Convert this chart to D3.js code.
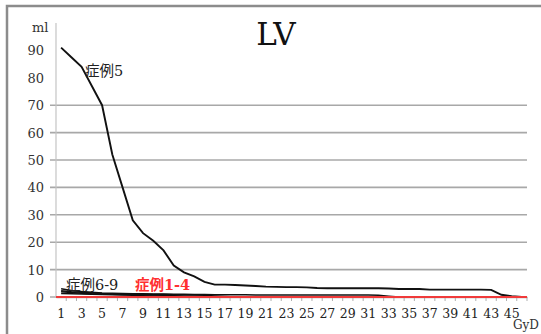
<!DOCTYPE html>
<html>
<head>
<meta charset="utf-8">
<script src="https://cdn.jsdelivr.net/npm/d3@7"></script>
<style>
  body { margin: 0; background: #fff; overflow: hidden; }
  svg { display: block; }
  text { font-family: "DejaVu Serif", "Liberation Serif", "Noto Sans CJK JP", serif; }
</style>
</head>
<body>
<div id="chart"></div>
<script>
// dose bins (Gy)
const doses = d3.range(1, 47);
const tickLabels = doses.filter(d => d % 2 === 1);
const yTicks = [0, 10, 20, 30, 40, 50, 60, 70, 80, 90];
const gridValues = [0, 10, 20, 30, 40, 50, 60, 70];

// volume (ml) per case
const case5 = [91, 87.5, 84, 77, 70, 52, 40, 28, 23.3, 20.5, 17, 11.5, 9, 7.5, 5.5, 4.5,
  4.5, 4.4, 4.2, 4, 3.8, 3.7, 3.6, 3.6, 3.5, 3.3, 3.2, 3.2, 3.2, 3.2, 3.2, 3.2, 3.1,
  2.9, 2.9, 2.9, 2.7, 2.7, 2.7, 2.7, 2.7, 2.7, 2.6, 0.8, 0.3, 0];
const case6 = [3.0, 2.4, 2.0, 1.7, 1.5, 1.4, 1.3, 1.2, 1.2, 1.1, 1.1, 1.0, 1.0, 0.9, 0.9,
  0.8, 0.8, 0.8, 0.8, 0.7, 0.7, 0.7, 0.7, 0.7, 0.7, 0.7, 0.7, 0.7, 0.7, 0.7, 0.7, 0.6,
  0.3, 0, 0, 0, 0, 0, 0, 0, 0, 0, 0, 0, 0, 0];
const case7 = [2.3, 1.9, 1.7, 1.5, 1.3, 1.2, 1.1, 1.0, 1.0, 0.9, 0.9, 0.8, 0.8, 0.7, 0.6,
  0.4, 0.2, 0, 0, 0, 0, 0, 0, 0, 0, 0, 0, 0, 0, 0, 0, 0, 0, 0, 0, 0, 0, 0, 0, 0, 0, 0,
  0, 0, 0, 0];
const case8 = [1.9, 1.6, 1.4, 1.2, 1.1, 1.0, 0.9, 0.9, 0.8, 0.7, 0.6, 0.5, 0.4, 0.3, 0.2,
  0.1, 0, 0, 0, 0, 0, 0, 0, 0, 0, 0, 0, 0, 0, 0, 0, 0, 0, 0, 0, 0, 0, 0, 0, 0, 0, 0, 0,
  0, 0, 0];
const case9 = [1.3, 1.2, 1.1, 1.0, 0.9, 0.8, 0.7, 0.6, 0.5, 0.4, 0.3, 0.2, 0.1, 0, 0, 0,
  0, 0, 0, 0, 0, 0, 0, 0, 0, 0, 0, 0, 0, 0, 0, 0, 0, 0, 0, 0, 0, 0, 0, 0, 0, 0, 0, 0, 0, 0];
const cases1to4 = [0, 0, 0, 0, 0, 0, 0, 0, 0, 0, 0, 0, 0, 0, 0, 0, 0, 0, 0, 0, 0, 0, 0,
  0, 0, 0, 0, 0, 0, 0, 0, 0, 0, 0, 0, 0, 0, 0, 0, 0, 0, 0, 0, 0, 0, 0];

const width = 541, height = 334;
const margin = { top: 23, right: 14, bottom: 37, left: 56 };

const svg = d3.select('#chart').append('svg')
  .attr('width', width)
  .attr('height', height);

// outer frame (continues past the right and bottom edges)
svg.append('path')
  .attr('d', `M7,${height + 5}V6H${width + 5}`)
  .attr('fill', 'none')
  .attr('stroke', '#8c8c8c')
  .attr('stroke-width', 2.5);

const x = d3.scaleBand()
  .domain(doses)
  .range([margin.left, width - margin.right]);

const y = d3.scaleLinear()
  .domain([0, 100])
  .range([height - margin.bottom, margin.top]);

// gridlines
svg.append('g')
  .selectAll('line')
  .data(gridValues)
  .join('line')
  .attr('x1', margin.left - 6)
  .attr('x2', width - margin.right)
  .attr('y1', d => y(d))
  .attr('y2', d => y(d))
  .attr('stroke', '#a8a8a8')
  .attr('stroke-width', 1.6);

// y axis line
svg.append('line')
  .attr('x1', margin.left).attr('x2', margin.left)
  .attr('y1', y(100)).attr('y2', y(0))
  .attr('stroke', '#c4c4c4')
  .attr('stroke-width', 1.2);

// y labels
svg.append('g')
  .selectAll('text')
  .data(yTicks)
  .join('text')
  .attr('x', 44)
  .attr('y', d => y(d) + 5)
  .attr('text-anchor', 'end')
  .attr('font-size', 13)
  .attr('fill', '#333')
  .text(d => d);

svg.append('text')
  .attr('x', 32).attr('y', 32)
  .attr('font-size', 13)
  .attr('fill', '#333')
  .text('ml');

// x axis labels
const xAxis = d3.axisBottom(x)
  .tickValues(tickLabels)
  .tickSize(0)
  .tickPadding(12);

const gx = svg.append('g')
  .attr('transform', `translate(0,${y(0)})`)
  .call(xAxis);
gx.select('.domain').attr('stroke', '#a8a8a8').attr('stroke-width', 1.6);
gx.selectAll('text')
  .attr('font-family', '"DejaVu Serif", serif')
  .attr('font-size', 12.5)
  .attr('fill', '#222');

// small ticks at category boundaries
svg.append('g')
  .selectAll('line')
  .data(doses.slice(1).concat([47]))
  .join('line')
  .attr('x1', d => d <= 46 ? x(d) : x(46) + x.bandwidth())
  .attr('x2', d => d <= 46 ? x(d) : x(46) + x.bandwidth())
  .attr('y1', y(0))
  .attr('y2', y(0) + 4)
  .attr('stroke', '#b0b0b0')
  .attr('stroke-width', 1);

svg.append('text')
  .attr('x', 513).attr('y', 329)
  .attr('font-size', 12)
  .attr('fill', '#333')
  .text('GyD');

// lines
const line = d3.line()
  .x((d, i) => x(doses[i]) + x.bandwidth() / 2)
  .y(d => y(d));

const blackSeries = [case9, case8, case7, case6, case5];
svg.append('g')
  .selectAll('path')
  .data(blackSeries)
  .join('path')
  .attr('d', line)
  .attr('fill', 'none')
  .attr('stroke', '#111')
  .attr('stroke-width', (d, i) => i === 4 ? 1.9 : 1.5);

svg.append('path')
  .datum(cases1to4)
  .attr('d', d3.line()
    .x((d, i) => i === doses.length - 1 ? x(doses[i]) + x.bandwidth() : (i === 0 ? x(doses[i]) : x(doses[i]) + x.bandwidth() / 2))
    .y(d => y(d)))
  .attr('fill', 'none')
  .attr('stroke', '#f03a3a')
  .attr('stroke-width', 2.2);

// title
svg.append('text')
  .attr('x', 276).attr('y', 45)
  .attr('text-anchor', 'middle')
  .attr('font-family', '"Liberation Serif", "DejaVu Serif", serif')
  .attr('font-size', 31)
  .attr('fill', '#111')
  .text('LV');

// case labels
svg.append('text')
  .attr('x', 85).attr('y', 76)
  .attr('font-size', 14.5)
  .attr('fill', '#222')
  .text('症例5');

svg.append('text')
  .attr('x', 66).attr('y', 290)
  .attr('font-size', 14.5)
  .attr('fill', '#222')
  .text('症例6-9');

svg.append('text')
  .attr('x', 135).attr('y', 290)
  .attr('font-size', 14.5)
  .attr('font-weight', 'bold')
  .attr('fill', '#ff3030')
  .text('症例1-4');
</script>
</body>
</html>
